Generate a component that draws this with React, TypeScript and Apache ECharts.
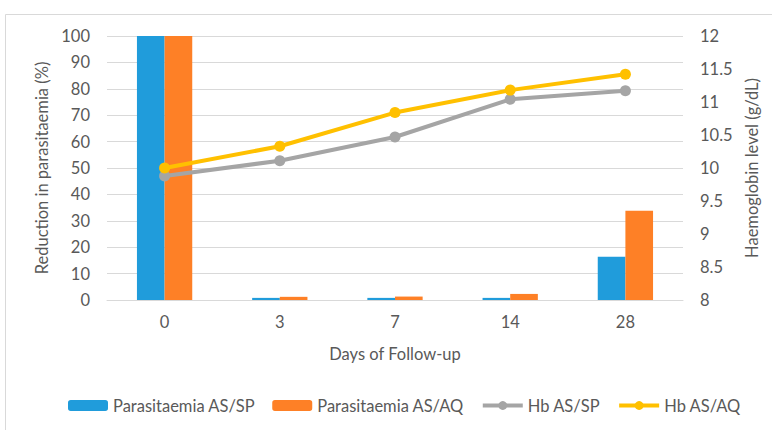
import React, { useEffect, useRef } from "react";
import * as echarts from "echarts";

const days = ["0", "3", "7", "14", "28"];
const parasitaemiaASSP = [100, 0.8, 0.8, 0.8, 16.4];
const parasitaemiaASAQ = [100, 1.2, 1.3, 2.3, 33.8];
const hbASSP = [9.88, 10.11, 10.47, 11.04, 11.17];
const hbASAQ = [10.0, 10.33, 10.84, 11.18, 11.42];

const FONT = "Lato";
const TXT = "#595959";
const GRID = "#d9d9d9";
const FS = 16.5;

export default function App() {
  const ref = useRef<HTMLDivElement>(null);
  useEffect(() => {
    if (!ref.current) return;
    const chart = echarts.init(ref.current, undefined, { renderer: "svg" });
    chart.setOption({
      animation: false,
      backgroundColor: "#ffffff",
      textStyle: { fontFamily: FONT, color: TXT },
      graphic: [
        {
          type: "rect",
          shape: { x: 5.5, y: 14.5, width: 820, height: 500 },
          style: { fill: "none", stroke: GRID, lineWidth: 1 },
          silent: true,
          z: -1,
        },
      ],
      grid: { left: 107, right: 89, top: 36, bottom: 130 },
      legend: {
        bottom: 11,
        left: 63,
        width: 705,
        itemGap: 17,
        itemWidth: 40,
        itemHeight: 11,
        lineStyle: { width: 4 },
        textStyle: { fontFamily: FONT, fontSize: FS, color: TXT },
        data: ["Parasitaemia AS/SP", "Parasitaemia AS/AQ", "Hb AS/SP", "Hb AS/AQ"],
      },
      xAxis: {
        type: "category",
        data: days,
        name: "Days of Follow-up",
        nameLocation: "middle",
        nameGap: 45,
        nameTextStyle: { fontFamily: FONT, fontSize: FS, color: TXT },
        axisLine: { lineStyle: { color: GRID, width: 1 } },
        axisTick: { show: false },
        axisLabel: { fontFamily: FONT, fontSize: FS, color: TXT, margin: 13 },
      },
      yAxis: [
        {
          type: "value",
          min: 0,
          max: 100,
          interval: 10,
          name: "Reduction in parasitaemia (%)",
          nameLocation: "middle",
          nameGap: 51,
          nameTextStyle: { fontFamily: FONT, fontSize: FS, color: TXT },
          axisLine: { show: false },
          axisTick: { show: false },
          axisLabel: { fontFamily: FONT, fontSize: FS, color: TXT, margin: 17 },
          splitLine: { lineStyle: { color: GRID, width: 1 } },
        },
        {
          type: "value",
          min: 8,
          max: 12,
          interval: 0.5,
          name: "Haemoglobin level (g/dL)",
          nameLocation: "middle",
          nameGap: 60,
          nameTextStyle: { fontFamily: FONT, fontSize: FS, color: TXT },
          axisLine: { show: false },
          axisTick: { show: false },
          axisLabel: { fontFamily: FONT, fontSize: FS, color: TXT, margin: 17 },
          splitLine: { show: false },
        },
      ],
      series: [
        {
          name: "Parasitaemia AS/SP",
          type: "bar",
          data: parasitaemiaASSP,
          barGap: "0%",
          barCategoryGap: "52%",
          itemStyle: { color: "#209cdb" },
          z: 2,
        },
        {
          name: "Parasitaemia AS/AQ",
          type: "bar",
          data: parasitaemiaASAQ,
          itemStyle: { color: "#fe8026" },
          z: 2,
        },
        {
          name: "Hb AS/SP",
          type: "line",
          yAxisIndex: 1,
          data: hbASSP,
          symbol: "circle",
          symbolSize: 11,
          lineStyle: { color: "#a5a5a5", width: 4 },
          itemStyle: { color: "#a5a5a5" },
          z: 3,
        },
        {
          name: "Hb AS/AQ",
          type: "line",
          yAxisIndex: 1,
          data: hbASAQ,
          symbol: "circle",
          symbolSize: 11,
          lineStyle: { color: "#ffc000", width: 4 },
          itemStyle: { color: "#ffc000" },
          z: 4,
        },
      ],
    });
    return () => chart.dispose();
  }, []);
  return (
    <div
      ref={ref}
      style={{ position: "absolute", left: 0, top: 0, width: 772, height: 430 }}
    />
  );
}
